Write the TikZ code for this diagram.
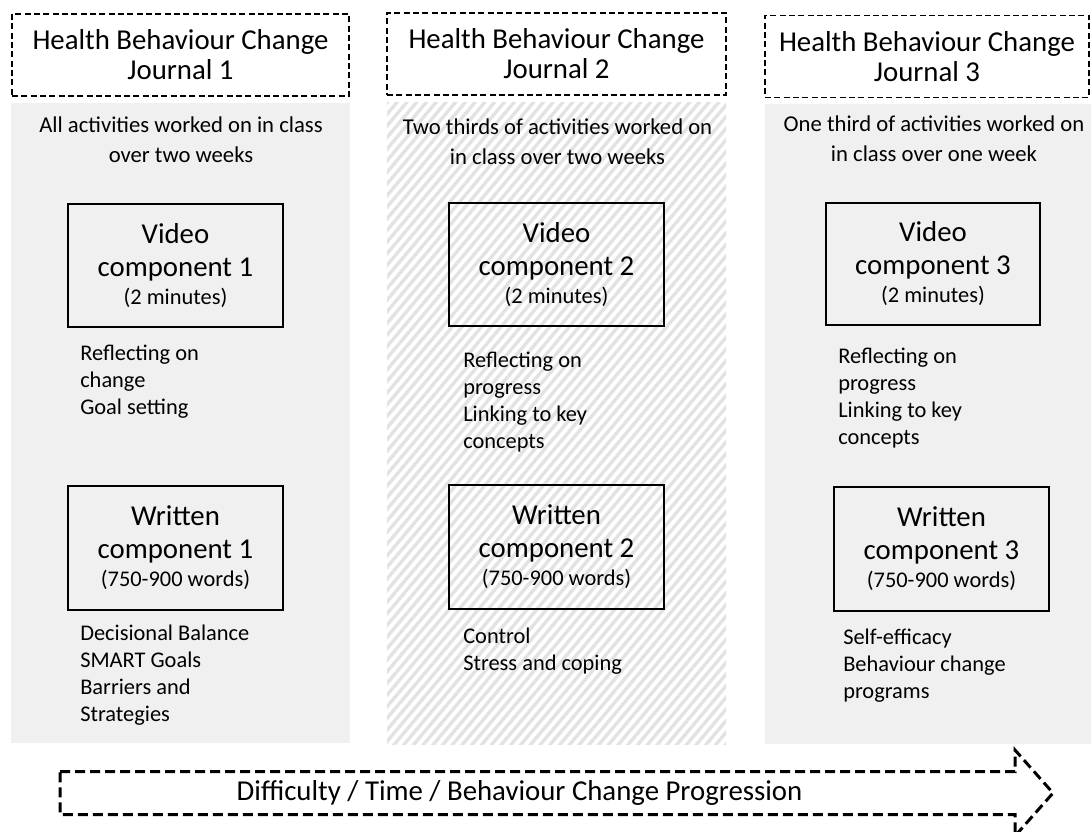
\documentclass[tikz,border=0pt]{standalone}
\usepackage{fontspec}
\setmainfont{Carlito}
\usetikzlibrary{positioning,patterns.meta}

\definecolor{panelgrey}{RGB}{240,240,240}
\definecolor{hatchgrey}{RGB}{226,226,226}

\begin{document}
\begin{tikzpicture}[x=0.75pt, y=-0.75pt,
		journal/.style={draw, line width=1pt, dash pattern=on 4.5pt off 2.5pt,
			align=center, inner sep=0pt, minimum height=61.5pt,
			font=\fontsize{21.6pt}{22.5pt}\selectfont},
		panel/.style={fill=panelgrey},
		hatched/.style={fill=white, postaction={pattern={Lines[angle=50, distance=5.6pt, line width=2.5pt]}, pattern color=hatchgrey}},
		blurb/.style={align=center, inner sep=0pt, font=\fontsize{17pt}{22.5pt}\selectfont},
		component/.style={draw, line width=1.5pt, align=center, inner sep=0pt,
			minimum width=161.25pt, minimum height=92.5pt,
			font=\fontsize{21.6pt}{24.75pt}\selectfont},
		topics/.style={anchor=north west, align=left, inner sep=0pt,
			font=\fontsize{16.8pt}{20.25pt}\selectfont},
		progress/.style={draw, line width=2.25pt, dash pattern=on 7.5pt off 3.75pt}]
	\useasboundingbox (0,0) rectangle (1091,831);

	% background panels
	\path[panel] (11,103) rectangle (350,743);
	\path[hatched] (387,103) rectangle (726,744);
	\path[panel] (765,104) rectangle (1091,744);

	% journal headings
	\node[journal, minimum width=252.75pt] (journal1) at (180.5,55) {Health Behaviour Change\\Journal 1};
	\node[journal, minimum width=254.25pt] (journal2) at (556.5,54) {Health Behaviour Change\\Journal 2};
	\node[journal, minimum width=243pt] (journal3) at (927,56.5) {Health Behaviour Change\\Journal 3};

	\node[blurb] (class1) at (181,140) {All activities worked on in class\\over two weeks};
	\node[blurb] (class2) at (557.5,142) {Two thirds of activities worked on\\in class over two weeks};
	\node[blurb] (class3) at (934,139) {One third of activities worked on\\in class over one week};

	% video components
	\node[component] (video1) at (175.5,265.5) {Video\\component 1\\[-3.75pt]{\fontsize{16.8pt}{20.25pt}\selectfont (2 minutes)}};
	\node[component] (video2) at (556.5,264.5) {Video\\component 2\\[-3.75pt]{\fontsize{16.8pt}{20.25pt}\selectfont (2 minutes)}};
	\node[component, minimum width=160.5pt, minimum height=91.5pt] (video3) at (933,264) {Video\\component 3\\[-3.75pt]{\fontsize{16.8pt}{20.25pt}\selectfont (2 minutes)}};

	\node[topics] (videotopics1) at (80,345) {Reflecting on\\change\\Goal setting};
	\node[topics] (videotopics2) at (463,352) {Reflecting on\\progress\\Linking to key\\concepts};
	\node[topics] (videotopics3) at (838,348) {Reflecting on\\progress\\Linking to key\\concepts};

	% written components
	\node[component] (written1) at (175.5,548) {Written\\component 1\\[-3.75pt]{\fontsize{16.8pt}{20.25pt}\selectfont (750-900 words)}};
	\node[component] (written2) at (556.5,547) {Written\\component 2\\[-3.75pt]{\fontsize{16.8pt}{20.25pt}\selectfont (750-900 words)}};
	\node[component] (written3) at (941.5,549) {Written\\component 3\\[-3.75pt]{\fontsize{16.8pt}{20.25pt}\selectfont (750-900 words)}};

	\node[topics] (writtentopics1) at (80,625) {Decisional Balance\\SMART Goals\\Barriers and\\Strategies};
	\node[topics] (writtentopics2) at (463,628) {Control\\Stress and coping};
	\node[topics] (writtentopics3) at (843,629) {Self-efficacy\\Behaviour change\\programs};

	% progression arrow
	\draw[progress] (60,771.5) -- (1015,771.5) -- (1015,750) -- (1053,793)
		-- (1015,836) -- (1015,814.5) -- (60,814.5) -- cycle;
	\node[inner sep=0pt, font=\fontsize{21.6pt}{24pt}\selectfont] (progression) at (519.5,793) {Difficulty / Time / Behaviour Change Progression};
\end{tikzpicture}
\end{document}
